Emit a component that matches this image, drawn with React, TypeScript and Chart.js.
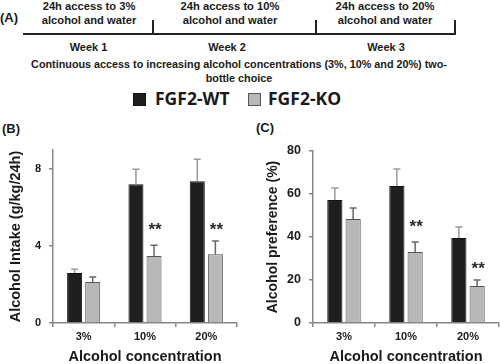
import React, { useEffect, useRef } from "react";
import { Chart, registerables } from "chart.js";
Chart.register(...registerables);

const categories = ["3%", "10%", "20%"];
const seriesNames = ["FGF2-WT", "FGF2-KO"];
const seriesColors = ["#1f1f1f", "#b8b8b8"];
const seriesBorders = ["#111111", "#555555"];
const errColors = ["#9a9a9a", "#666666"];

const intakeWT = [2.6, 7.22, 7.38];
const intakeKO = [2.13, 3.48, 3.58];
const intakeWTErr = [0.2, 0.78, 1.14];
const intakeKOErr = [0.26, 0.57, 0.68];
const intakeStars = [null, 5.1, 5.1];
const intakeTicks = [0, 4, 8];

const prefWT = [57.2, 63.7, 39.5];
const prefKO = [48.4, 33.0, 17.2];
const prefWTErr = [5.6, 7.9, 5.2];
const prefKOErr = [5.1, 4.7, 2.8];
const prefStars = [null, 46.7, 27.6];
const prefTicks = [0, 20, 40, 60, 80];

const timelineTop = ["24h access to 3%", "24h access to 10%", "24h access to 20%"];
const timelineBottom = ["alcohol and water", "alcohol and water", "alcohol and water"];
const weeks = ["Week 1", "Week 2", "Week 3"];
const caption = [
  "Continuous access to increasing alcohol concentrations (3%, 10% and 20%) two-",
  "bottle choice",
];

const FAM = '"Liberation Sans", Arial, sans-serif';
const STAR_SIZE = 17;

function errPlugin(errs: number[][], stars: (number | null)[]) {
  return {
    id: "errbars",
    afterDatasetsDraw(chart: any) {
      const ctx = chart.ctx;
      const ys = chart.scales.y;
      chart.data.datasets.forEach((ds: any, di: number) => {
        const meta = chart.getDatasetMeta(di);
        meta.data.forEach((el: any, i: number) => {
          const v = ds.data[i];
          const e = errs[di][i];
          const x = el.x;
          const y0 = el.y;
          const y1 = ys.getPixelForValue(v + e);
          ctx.save();
          ctx.strokeStyle = errColors[di];
          ctx.lineWidth = 1.5;
          ctx.beginPath();
          ctx.moveTo(x, y0);
          ctx.lineTo(x, y1);
          ctx.moveTo(x - 3.5, y1);
          ctx.lineTo(x + 3.5, y1);
          ctx.stroke();
          ctx.restore();
        });
      });
      const meta = chart.getDatasetMeta(1);
      stars.forEach((s, i) => {
        if (s == null) return;
        const el = meta.data[i];
        ctx.save();
        ctx.font = `bold ${STAR_SIZE}px ${FAM}`;
        ctx.textAlign = "center";
        ctx.textBaseline = "alphabetic";
        ctx.fillStyle = "#2a2a2a";
        ctx.fillText("**", el.x + 1, ys.getPixelForValue(s) + STAR_SIZE * 0.58);
        ctx.restore();
      });
    },
  };
}

function makeConfig(
  wt: number[],
  ko: number[],
  errs: number[][],
  stars: (number | null)[],
  ticks: number[],
  max: number,
  yTitle: string,
  yWidth: number,
  yTitlePad: number,
  yTitleSize: number,
  yTickSize: number,
  padding: any
): any {
  const axisColor = "#858585";
  return {
    type: "bar",
    data: {
      labels: categories,
      datasets: [
        {
          label: seriesNames[0],
          data: wt,
          backgroundColor: seriesColors[0],
          borderColor: seriesBorders[0],
          borderWidth: 1,
          categoryPercentage: 0.59,
          barPercentage: 0.83,
        },
        {
          label: seriesNames[1],
          data: ko,
          backgroundColor: seriesColors[1],
          borderColor: seriesBorders[1],
          borderWidth: 1,
          categoryPercentage: 0.59,
          barPercentage: 0.83,
        },
      ],
    },
    options: {
      responsive: false,
      animation: false,
      devicePixelRatio: 1,
      layout: { padding },
      plugins: { legend: { display: false }, tooltip: { enabled: false } },
      scales: {
        x: {
          grid: {
            offset: true,
            drawOnChartArea: false,
            drawTicks: true,
            tickLength: 4,
            color: axisColor,
            lineWidth: 1.5,
          },
          border: { color: axisColor, width: 1.5 },
          ticks: { font: { family: FAM, size: 11, weight: "bold" }, color: "#1a1a1a", padding: 3 },
          title: {
            display: true,
            text: "Alcohol concentration",
            font: { family: FAM, size: 14.5, weight: "bold", lineHeight: 1 },
            color: "#1a1a1a",
            padding: { top: 0, bottom: 0 },
          },
          afterFit: (s: any) => {
            s.height = 41;
          },
        },
        y: {
          min: 0,
          max,
          afterBuildTicks: (s: any) => {
            s.ticks = ticks.map((v) => ({ value: v }));
          },
          grid: {
            drawOnChartArea: false,
            drawTicks: true,
            tickLength: 4,
            color: axisColor,
            lineWidth: 1.5,
          },
          border: { color: axisColor, width: 1.5 },
          ticks: { font: { family: FAM, size: yTickSize, weight: "bold" }, color: "#1a1a1a", padding: 8 },
          title: {
            display: true,
            text: yTitle,
            font: { family: FAM, size: yTitleSize, weight: "bold" },
            color: "#1a1a1a",
            padding: { top: yTitlePad, bottom: 0 },
          },
          afterFit: (s: any) => {
            s.width = yWidth;
          },
        },
      },
    },
    plugins: [errPlugin(errs, stars)],
  };
}

function Txt(props: { x: number; y: number; size: number; children: any; family?: string; anchor?: string }) {
  const tx = props.anchor === "start" ? "0" : "-50%";
  return (
    <div
      style={{
        position: "absolute",
        left: props.x,
        top: props.y,
        transform: `translate(${tx}, -50%)`,
        fontFamily: props.family || FAM,
        fontWeight: "bold",
        fontSize: props.size,
        lineHeight: 1,
        whiteSpace: "nowrap",
        color: "#1a1a1a",
      }}
    >
      {props.children}
    </div>
  );
}

export default function App() {
  const refB = useRef<HTMLCanvasElement>(null);
  const refC = useRef<HTMLCanvasElement>(null);

  useEffect(() => {
    const cb = new Chart(
      refB.current as HTMLCanvasElement,
      makeConfig(
        intakeWT,
        intakeKO,
        [intakeWTErr, intakeKOErr],
        intakeStars,
        intakeTicks,
        9,
        "Alcohol Intake (g/kg/24h)",
        53,
        6.8,
        14.5,
        11,
        { left: 0, right: 8, top: 20, bottom: 0 }
      )
    );
    const cc = new Chart(
      refC.current as HTMLCanvasElement,
      makeConfig(
        prefWT,
        prefKO,
        [prefWTErr, prefKOErr],
        prefStars,
        prefTicks,
        80,
        "Alcohol preference (%)",
        58,
        9.6,
        14,
        12.5,
        { left: 0, right: 1, top: 21, bottom: 0 }
      )
    );
    return () => {
      cb.destroy();
      cc.destroy();
    };
  }, []);

  const segCenters = [89, 230, 385];
  const weekCenters = [88.5, 227, 386];
  const tickXs = [153, 316, 455];

  return (
    <div
      style={{
        position: "absolute",
        left: 0,
        top: 0,
        width: 500,
        height: 364,
        overflow: "hidden",
        background: "#fff",
      }}
    >
      {/* Panel A */}
      <Txt x={0} y={17} size={13} anchor="start">(A)</Txt>
      {timelineTop.map((t, i) => (
        <Txt key={"tt" + i} x={segCenters[i]} y={7} size={11.2}>{t}</Txt>
      ))}
      {timelineBottom.map((t, i) => (
        <Txt key={"tb" + i} x={segCenters[i]} y={21} size={11.2}>{t}</Txt>
      ))}
      <div style={{ position: "absolute", left: 23, top: 32.5, width: 433, height: 2, background: "#222" }} />
      {tickXs.map((x, i) => (
        <div key={"tk" + i} style={{ position: "absolute", left: x - 1, top: 20, width: 2, height: 14, background: "#222" }} />
      ))}
      {weeks.map((t, i) => (
        <Txt key={"wk" + i} x={weekCenters[i]} y={47} size={11}>{t}</Txt>
      ))}
      {caption.map((t, i) => (
        <Txt key={"cp" + i} x={239} y={64 + i * 14} size={10.8}>{t}</Txt>
      ))}

      {/* Legend */}
      {seriesNames.map((n, i) => (
        <React.Fragment key={"lg" + i}>
          <div
            style={{
              position: "absolute",
              left: [133, 248][i],
              top: 93,
              width: 11,
              height: 11,
              background: seriesColors[i],
              border: `1px solid ${seriesBorders[i]}`,
            }}
          />
          <Txt x={[155, 268][i]} y={99} size={17.5} family='"Open Sans", sans-serif' anchor="start">
            {n}
          </Txt>
        </React.Fragment>
      ))}

      {/* Panel labels */}
      <Txt x={2} y={128} size={13} anchor="start">(B)</Txt>
      <Txt x={256} y={127} size={13} anchor="start">(C)</Txt>

      <canvas ref={refB} width={245} height={234} style={{ position: "absolute", left: 0, top: 130 }} />
      <canvas ref={refC} width={245} height={234} style={{ position: "absolute", left: 255, top: 130 }} />
    </div>
  );
}
